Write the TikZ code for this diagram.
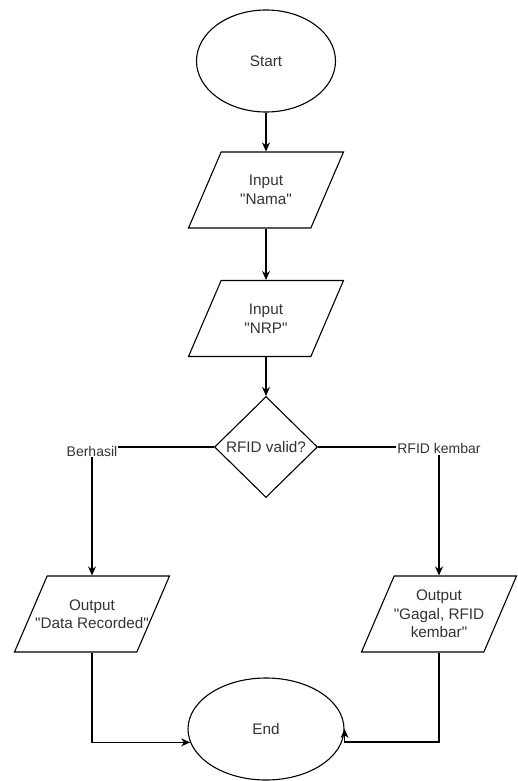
\documentclass[tikz,border=0pt]{standalone}
\usepackage{fontspec}
\setmainfont{Liberation Sans}
\usetikzlibrary{shapes.geometric,arrows.meta}
\newcommand{\qt}[1]{\textquotedbl#1\textquotedbl}
\tikzset{
  base/.style={draw, line width=1.1pt, text=black!80, align=center, inner sep=0pt,
    font=\fontsize{15.3}{18.5}\selectfont},
  every label/.style={text=black!80, align=center, inner sep=0pt,
    font=\fontsize{15.3}{18.5}\selectfont},
  terminal/.style={base, ellipse, minimum width=139pt, minimum height=102pt},
  io/.style={base, trapezium, trapezium left angle=70, trapezium right angle=110,
    trapezium stretches=true, inner sep=1pt, minimum width=155pt, minimum height=76pt},
  decision/.style={base, diamond, minimum width=103pt, minimum height=101pt},
  arrow/.style={line width=1.1pt, -{Stealth[length=9pt,width=8pt]}},
  edgelabel/.style={fill=white, inner sep=1pt, text=black!80,
    font=\fontsize{14}{16}\selectfont}
}
\begin{document}
\begin{tikzpicture}[x=1pt, y=-1pt]
  \useasboundingbox (0,0) rectangle (517,781);
  \node[terminal] (start) at (266,61) {Start};
  \node[io, label=center:{Input\\\qt{Nama}}] (nama) at (266,190) {};
  \node[io, label=center:{Input\\\qt{NRP}}] (nrp) at (266,318.5) {};
  \node[decision, label=center:{RFID valid?}] (valid) at (266,447) {};
  \node[io, label=center:{Output\\\qt{Data Recorded}}] (recorded) at (92,614) {};
  \node[io, label=center:{Output\\\qt{Gagal, RFID\\kembar}}] (gagal) at (439,614) {};
  \node[terminal, minimum width=156pt] (end) at (266,729) {End};
  \coordinate (turn) at ([yshift=-13pt]end.east -| gagal.south);
  % main line
  \draw[arrow] (start) -- (nama);
  \draw[arrow] (nama) -- (nrp);
  \draw[arrow] (nrp) -- (valid);
  % branches
  \draw[arrow] (valid.west) -| node[edgelabel, yshift=-4pt] {Berhasil} (recorded.north);
  \draw[arrow] (valid.east) -| node[edgelabel, yshift=-1.5pt] {RFID kembar} (gagal.north);
  \draw[arrow] (recorded.south) |- (end.190);
  \draw[arrow] (gagal.south) -- (turn) -| (end.east);
\end{tikzpicture}
\end{document}
